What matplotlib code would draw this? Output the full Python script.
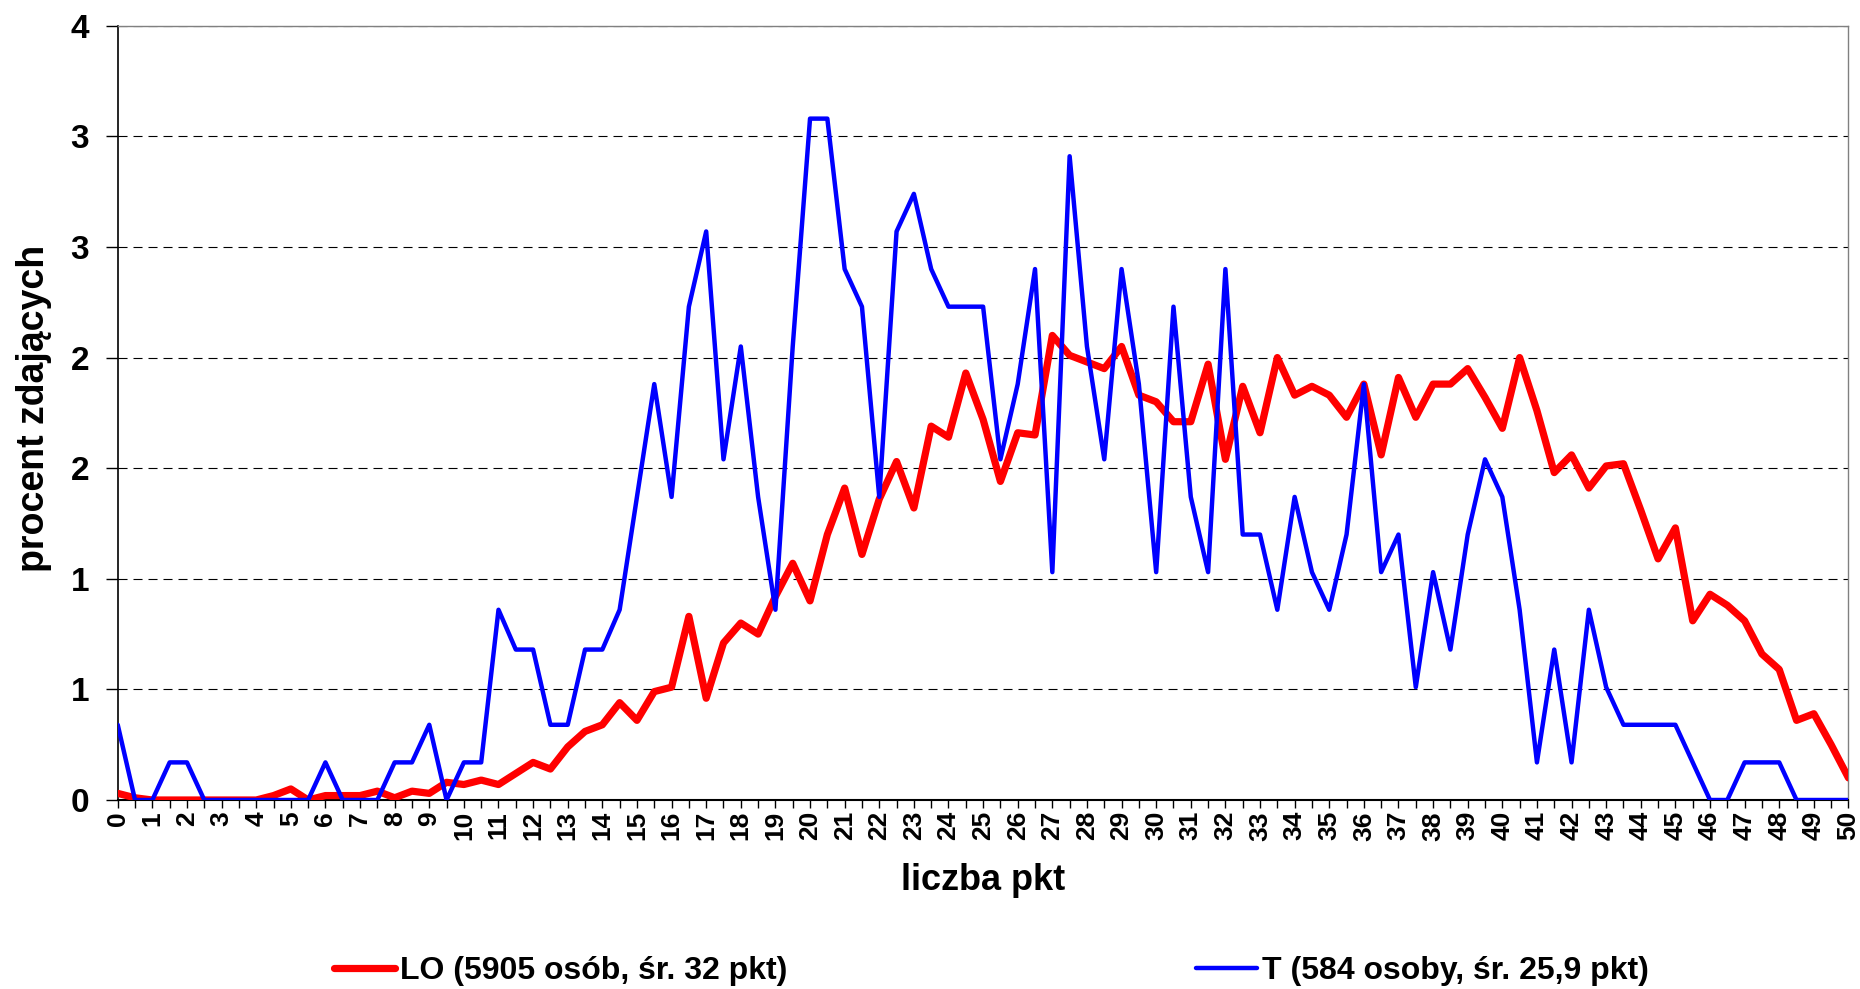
import numpy as np
import matplotlib
matplotlib.use("Agg")
import matplotlib.pyplot as plt

plt.rcParams["font.family"] = ["Liberation Sans", "DejaVu Sans"]
plt.rcParams["font.weight"] = "bold"
plt.rcParams["lines.scale_dashes"] = False

# score axis: 0 .. 50 in half-point steps
points = np.arange(0, 50.5, 0.5)

# LO series, % of takers
lo_pct = [
    0.03, 0.01, 0.00, 0.00, 0.00, 0.00, 0.00, 0.00, 0.00, 0.02,
    0.05, 0.00, 0.02, 0.02, 0.02, 0.04, 0.01, 0.04, 0.03, 0.08,
    0.07, 0.09, 0.07, 0.12, 0.17, 0.14, 0.24, 0.31, 0.34, 0.44,
    0.36, 0.49, 0.51, 0.83, 0.46, 0.71, 0.80, 0.75, 0.92, 1.07,
    0.90, 1.20, 1.41, 1.11, 1.36, 1.53, 1.32, 1.69, 1.64, 1.93,
    1.72, 1.44, 1.66, 1.65, 2.10, 2.01, 1.98, 1.95, 2.05, 1.83,
    1.80, 1.71, 1.71, 1.97, 1.54, 1.87, 1.66, 2.00, 1.83, 1.87,
    1.83, 1.73, 1.88, 1.56, 1.91, 1.73, 1.88, 1.88, 1.95, 1.82,
    1.68, 2.00, 1.76, 1.48, 1.56, 1.41, 1.51, 1.52, 1.31, 1.09,
    1.23, 0.81, 0.93, 0.88, 0.81, 0.66, 0.59, 0.36, 0.39, 0.25,
    0.10,
]

# T series, % of takers
t_pct = [
    0.34, 0.00, 0.00, 0.17, 0.17, 0.00, 0.00, 0.00, 0.00, 0.00,
    0.00, 0.00, 0.17, 0.00, 0.00, 0.00, 0.17, 0.17, 0.34, 0.00,
    0.17, 0.17, 0.86, 0.68, 0.68, 0.34, 0.34, 0.68, 0.68, 0.86,
    1.37, 1.88, 1.37, 2.23, 2.57, 1.54, 2.05, 1.37, 0.86, 2.05,
    3.08, 3.08, 2.40, 2.23, 1.37, 2.57, 2.74, 2.40, 2.23, 2.23,
    2.23, 1.54, 1.88, 2.40, 1.03, 2.91, 2.05, 1.54, 2.40, 1.88,
    1.03, 2.23, 1.37, 1.03, 2.40, 1.20, 1.20, 0.86, 1.37, 1.03,
    0.86, 1.20, 1.88, 1.03, 1.20, 0.51, 1.03, 0.68, 1.20, 1.54,
    1.37, 0.86, 0.17, 0.68, 0.17, 0.86, 0.51, 0.34, 0.34, 0.34,
    0.34, 0.17, 0.00, 0.00, 0.17, 0.17, 0.17, 0.00, 0.00, 0.00,
    0.00,
]

series_names = ["LO (5905 osób, śr. 32 pkt)", "T (584 osoby, śr. 25,9 pkt)"]
y_ticks = [0, 0.5, 1.0, 1.5, 2.0, 2.5, 3.0, 3.5]
y_tick_labels = ["0", "1", "1", "2", "2", "3", "3", "4"]
x_tick_labels = [str(int(p)) if p == int(p) else "" for p in points]

fig = plt.figure(figsize=(18.6, 9.89), dpi=100)
ax = fig.add_axes([0.0633, 0.1911, 0.9305, 0.7829])

ax.plot(points, lo_pct, color="#FF0000", lw=5.2, solid_joinstyle="round",
        solid_capstyle="round", label=series_names[0], zorder=3)
ax.plot(points, t_pct, color="#0000FF", lw=3.2, solid_joinstyle="round",
        solid_capstyle="round", label=series_names[1], zorder=4)

ax.set_xlim(0, 50)
ax.set_ylim(0, 3.5)

ax.set_xticks(points)
ax.set_xticklabels(x_tick_labels, rotation=90)
ax.set_yticks(y_ticks)
ax.set_yticklabels(y_tick_labels)
ax.tick_params(axis="x", length=6, width=1, labelsize=19, pad=2)
ax.tick_params(axis="y", length=8.5, width=1, labelsize=24, pad=12)

ax.grid(axis="y", color="black", lw=0.8, linestyle=(0, (6.5, 4.3)))
ax.set_axisbelow(True)

ax.spines["left"].set_linewidth(1.2)
ax.spines["bottom"].set_linewidth(1.5)
for side in ("top", "right"):
    ax.spines[side].set_color("#808080")
    ax.spines[side].set_linewidth(1.0)

fig.text(0.0185, 0.5875, "procent zdających", rotation=90, ha="center",
         va="center", fontsize=27, fontweight="bold")
fig.text(0.5285, 0.110, "liczba pkt", ha="center", va="center",
         fontsize=26, fontweight="bold")

fig.legend(loc="center", bbox_to_anchor=(0.533, 0.0185), ncol=2,
           frameon=False, fontsize=23, handlelength=1.9, handletextpad=0.15,
           columnspacing=12.8)

fig.savefig("out.png", dpi=100)
